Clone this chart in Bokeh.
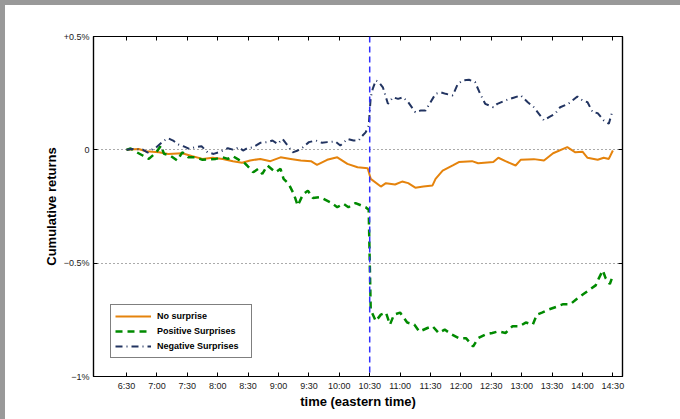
from bokeh.plotting import figure
from bokeh.models import Range1d, FixedTicker, LinearAxis, Span, Legend
from bokeh.embed import file_html
from bokeh.resources import INLINE

# ---- data (minutes after 6:30, cumulative return in %) ----
no_surprise_t = [0, 12, 19, 32, 41, 55, 65, 75, 85, 95, 105, 114, 122, 132, 142, 152, 162, 172, 182, 188,
                 198, 208, 218, 228, 238, 241, 251, 256, 265, 272, 278, 285, 293, 302, 305, 312, 322, 328, 341, 347,
                 362, 367, 374, 384, 389, 402, 412, 421, 435, 443, 450, 455, 465, 471, 476, 480]
no_surprise_v = [0, 0.004, -0.006, -0.011, -0.018, -0.015, -0.028, -0.040, -0.035, -0.040,
                 -0.050, -0.057, -0.047, -0.040, -0.050, -0.033, -0.040, -0.047, -0.050, -0.066,
                 -0.044, -0.033, -0.062, -0.077, -0.081, -0.128, -0.162, -0.147, -0.153, -0.140,
                 -0.147, -0.167, -0.162, -0.157, -0.128, -0.092, -0.069, -0.054, -0.050, -0.059,
                 -0.054, -0.035, -0.050, -0.069, -0.044, -0.041, -0.047, -0.015, 0.012, -0.011,
                 -0.008, -0.035, -0.044, -0.035, -0.040, -0.003]

positive_t = [0, 4, 9, 16, 22, 29, 34, 37, 43, 50, 55, 61, 68, 75, 88, 95, 100, 105, 111, 115,
              119, 125, 130, 134, 139, 147, 152, 155, 160, 165, 169, 174, 179, 184, 191, 201, 208, 214, 219, 226,
              236, 239, 241, 246, 251, 256, 260, 264, 270, 277, 284, 289, 297, 302, 308, 314, 321, 328, 335, 338,
              342, 347, 354, 361, 367, 374, 381, 388, 394, 401, 405, 410, 417, 424, 431, 438, 444, 451, 458, 463,
              466, 470, 473, 477, 480]
positive_v = [0, 0.006, -0.008, -0.025, -0.040, -0.013, 0.019, -0.018, -0.025, -0.047,
              -0.011, -0.033, -0.033, -0.044, -0.040, -0.033, -0.040, -0.028, -0.044, -0.052,
              -0.069, -0.099, -0.084, -0.106, -0.069, -0.099, -0.084, -0.128, -0.150, -0.194,
              -0.246, -0.198, -0.180, -0.213, -0.209, -0.231, -0.253, -0.238, -0.253, -0.235,
              -0.253, -0.264, -0.705, -0.756, -0.727, -0.718, -0.771, -0.727, -0.718, -0.762,
              -0.771, -0.802, -0.786, -0.778, -0.808, -0.793, -0.815, -0.831, -0.831, -0.846,
              -0.868, -0.831, -0.815, -0.808, -0.801, -0.808, -0.778, -0.778, -0.762, -0.771,
              -0.727, -0.718, -0.704, -0.693, -0.681, -0.681, -0.659, -0.636, -0.614, -0.598,
              -0.568, -0.532, -0.568, -0.592, -0.555]

negative_t = [0, 6, 16, 21, 26, 29, 37, 41, 46, 51, 56, 62, 67, 74, 80, 86, 91, 100, 105, 111,
              115, 119, 125, 132, 139, 144, 149, 154, 159, 164, 169, 174, 180, 187, 193, 198, 206, 211, 218, 224,
              229, 233, 236, 239, 241, 243, 246, 249, 253, 258, 263, 268, 273, 278, 285, 290, 295, 300, 305, 310,
              315, 322, 327, 332, 338, 344, 349, 354, 362, 366, 374, 382, 389, 396, 402, 407, 412, 417, 423, 428,
              436, 445, 450, 455, 460, 465, 471, 476, 479]
negative_v = [0, 0.004, 0.001, -0.012, 0.004, 0.010, 0.041, 0.051, 0.041, 0.024,
              0.016, 0.004, 0.011, 0.016, -0.011, -0.018, -0.011, 0.007, 0.001, 0.011,
              -0.003, 0.007, 0.011, 0.031, 0.034, 0.041, 0.026, 0.048, 0.019, -0.011,
              -0.003, 0.011, 0.034, 0.041, 0.031, 0.034, 0.037, 0.019, 0.048, 0.041,
              0.041, 0.063, 0.077, 0.106, 0.232, 0.269, 0.306, 0.299, 0.276, 0.203,
              0.232, 0.225, 0.232, 0.210, 0.166, 0.173, 0.173, 0.210, 0.247, 0.254,
              0.247, 0.240, 0.291, 0.306, 0.309, 0.299, 0.247, 0.203, 0.188, 0.203,
              0.218, 0.230, 0.240, 0.210, 0.188, 0.159, 0.130, 0.144, 0.159, 0.188,
              0.203, 0.235, 0.218, 0.210, 0.166, 0.162, 0.130, 0.115, 0.162]

announcement_t = 240  # 10:30

x_ticks = [0, 30, 60, 90, 120, 150, 180, 210, 240, 270, 300, 330, 360, 390, 420, 450, 480]
x_tick_labels = ["6:30", "7:00", "7:30", "8:00", "8:30", "9:00", "9:30", "10:00", "10:30",
                 "11:00", "11:30", "12:00", "12:30", "13:00", "13:30", "14:00", "14:30"]
y_ticks = [-1.0, -0.5, 0.0, 0.5]
y_tick_labels = ["\u22121%", "\u22120.5%", "0", "+0.5%"]

FONT = "Liberation Sans"

p = figure(width=680, height=419, x_range=Range1d(-32.6, 489.5), y_range=Range1d(-1.0, 0.5),
           output_backend="svg", toolbar_location=None,
           min_border_left=93, min_border_right=58, min_border_top=36, min_border_bottom=43)
p.outline_line_color = "black"
p.outline_line_width = 1.2
p.background_fill_color = "white"
p.border_fill_color = "white"

# grid
p.xgrid.visible = False
p.ygrid.ticker = FixedTicker(ticks=[-0.5, 0.0])
p.ygrid.grid_line_color = "#555555"
p.ygrid.grid_line_dash = "1 3"
p.ygrid.grid_line_width = 1

def style_axis(ax, ticks, labels, show_labels=True):
    ax.ticker = FixedTicker(ticks=ticks)
    ax.major_label_overrides = {t: l for t, l in zip(ticks, labels)}
    ax.major_tick_in = 4
    ax.major_tick_out = 0
    ax.minor_tick_line_color = None
    ax.axis_line_color = "black"
    ax.axis_line_width = 1.2
    ax.major_tick_line_color = "black"
    ax.major_tick_line_width = 1
    ax.major_label_text_font = FONT
    ax.major_label_text_font_size = "9px"
    ax.major_label_text_color = "#1a1a1a" if show_labels else None
    ax.major_label_standoff = 4

style_axis(p.xaxis[0], x_ticks, x_tick_labels)
style_axis(p.yaxis[0], y_ticks, y_tick_labels)
p.xaxis[0].axis_label = "time (eastern time)"
p.yaxis[0].axis_label = "Cumulative returns"
for ax in (p.xaxis[0], p.yaxis[0]):
    ax.axis_label_text_font = FONT
    ax.axis_label_text_font_style = "bold"
    ax.axis_label_text_font_size = "13px"
    ax.axis_label_text_color = "black"
p.xaxis[0].axis_label_standoff = 0
p.yaxis[0].axis_label_standoff = 2

top_ax = LinearAxis()
style_axis(top_ax, x_ticks, x_tick_labels, show_labels=False)
p.add_layout(top_ax, "above")
right_ax = LinearAxis()
style_axis(right_ax, y_ticks, y_tick_labels, show_labels=False)
p.add_layout(right_ax, "right")

# event line
p.add_layout(Span(location=announcement_t, dimension="height", line_color="#2f2fff",
                  line_dash="6 4", line_width=1.5))

r1 = p.line(no_surprise_t, no_surprise_v, line_color="#e5830c", line_width=2)
r2 = p.line(positive_t, positive_v, line_color="#008a00", line_width=2.5, line_dash="7 5")
r3 = p.line(negative_t, negative_v, line_color="#223461", line_width=2, line_dash="7 4 1 4")

legend = Legend(items=[("No surprise", [r1]), ("Positive Surprises", [r2]), ("Negative Surprises", [r3])],
                location=(17, 18))
legend.label_text_font = FONT
legend.label_text_font_style = "bold"
legend.label_text_font_size = "9px"
legend.label_text_color = "black"
legend.glyph_width = 36
legend.glyph_height = 14
legend.label_height = 14
legend.label_width = 90
legend.label_standoff = 6
legend.spacing = 1
legend.padding = 4
legend.margin = 0
legend.border_line_color = "black"
legend.border_line_width = 1
legend.background_fill_color = "white"
legend.background_fill_alpha = 1
p.add_layout(legend, "center")

html = file_html(p, INLINE)
extra = ("<style>body::before{content:'';position:fixed;left:0;top:0;width:100%;height:5px;background:#999;z-index:9999;}"
         "body::after{content:'';position:fixed;left:0;top:0;width:5px;height:100%;background:#999;z-index:9999;}</style>")
html = html.replace("</head>", extra + "</head>", 1)
open("out.html", "w").write(html)
